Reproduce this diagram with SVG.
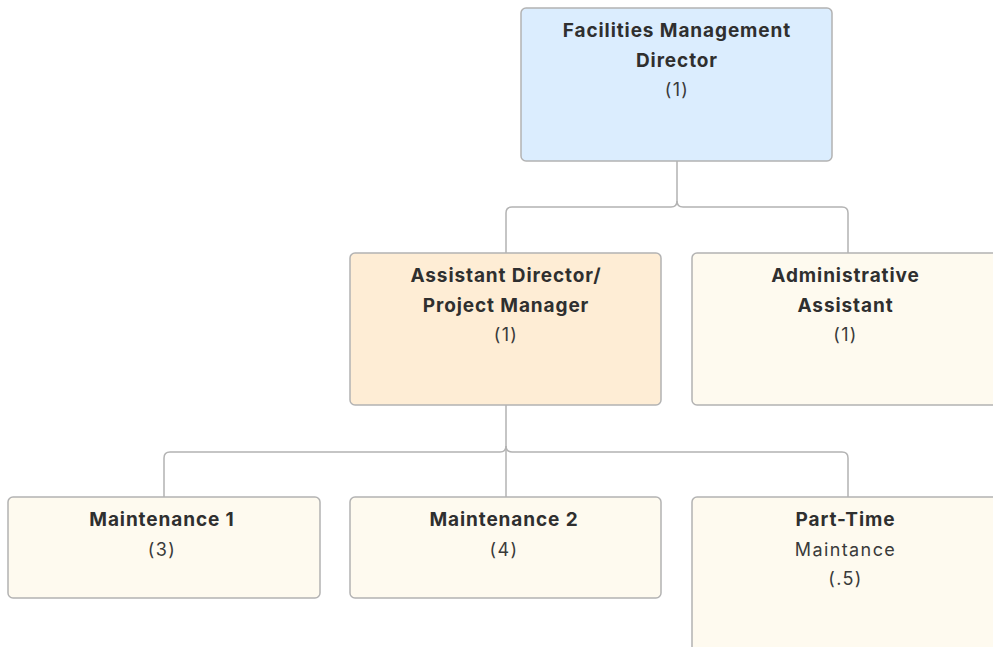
<svg xmlns="http://www.w3.org/2000/svg" width="993" height="647" viewBox="0 0 993 647">
<style>
.box{stroke:#b3b3b3;stroke-width:1.5}
.blue{fill:#dbedfe}
.orange{fill:#feedd5}
.cream{fill:#fefaef}
.t{font-family:Inter,"Open Sans","Liberation Sans",sans-serif;font-size:19px;font-weight:bold;letter-spacing:0.9px;fill:#2f2f2f;text-anchor:middle}
.s{font-family:Inter,"Open Sans","Liberation Sans",sans-serif;font-size:18px;font-weight:normal;letter-spacing:1.4px;fill:#3a3a3a;text-anchor:middle}
.c{fill:none;stroke:#b3b3b3;stroke-width:1.5}
</style>
<rect width="993" height="647" fill="#ffffff"/>
<g id="connectors">
<path class="c" d="M677,161 V201 Q677,207 671,207 H512 Q506,207 506,213 V253"/>
<path class="c" d="M677,201 Q677,207 683,207 H842 Q848,207 848,213 V253"/>
<path class="c" d="M506,405 V446 Q506,452 500,452 H170 Q164,452 164,458 V497"/>
<path class="c" d="M506,446 Q506,452 512,452 H842 Q848,452 848,458 V497"/>
<path class="c" d="M506,446 V497"/>
</g>
<g id="director">
<rect class="box blue" x="521" y="8" width="311" height="153" rx="5"/>
<text class="t" x="677" y="37">Facilities Management</text>
<text class="t" x="677" y="67">Director</text>
<text class="s" x="677" y="96">(1)</text>
</g>
<g id="assistant-director">
<rect class="box orange" x="350" y="253" width="311" height="152" rx="5"/>
<text class="t" x="506" y="282">Assistant Director/</text>
<text class="t" x="506" y="312">Project Manager</text>
<text class="s" x="506" y="341">(1)</text>
</g>
<g id="admin-assistant">
<rect class="box cream" x="692" y="253" width="320" height="152" rx="5"/>
<text class="t" x="845.5" y="282">Administrative</text>
<text class="t" x="845.5" y="312">Assistant</text>
<text class="s" x="845.5" y="341">(1)</text>
</g>
<g id="maintenance-1">
<rect class="box cream" x="8" y="497" width="312" height="101" rx="5"/>
<text class="t" x="162" y="526">Maintenance 1</text>
<text class="s" x="162" y="556">(3)</text>
</g>
<g id="maintenance-2">
<rect class="box cream" x="350" y="497" width="311" height="101" rx="5"/>
<text class="t" x="504" y="526">Maintenance 2</text>
<text class="s" x="504" y="556">(4)</text>
</g>
<g id="part-time">
<rect class="box cream" x="692" y="497" width="320" height="170" rx="5"/>
<text class="t" x="845.5" y="526">Part-Time</text>
<text class="s" x="845.5" y="556">Maintance</text>
<text class="s" x="845.5" y="585">(.5)</text>
</g>
</svg>
